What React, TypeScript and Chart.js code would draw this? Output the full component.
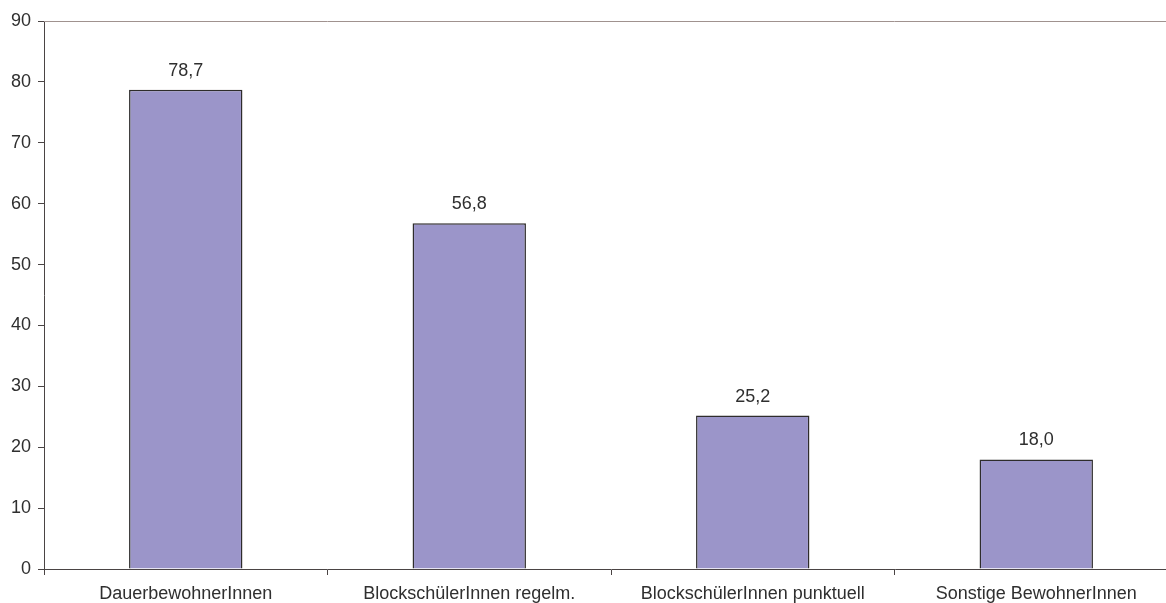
import React, { useEffect, useRef } from "react";
import { Chart, registerables } from "chart.js";

Chart.register(...registerables);

// Categories and their shares (percent)
const categories = [
  "DauerbewohnerInnen",
  "BlockschülerInnen regelm.",
  "BlockschülerInnen punktuell",
  "Sonstige BewohnerInnen",
];
const values = [78.7, 56.8, 25.2, 18.0];

const yMin = 0;
const yMax = 90;
const yStep = 10;

const FONT = '"Liberation Sans", Arial, Helvetica, sans-serif';
const TEXT = "#2f2f2f";
const AXIS = "#4a4444";

const formatValue = (v: number) => v.toFixed(1).replace(".", ",");

// Prints each bar's value above it
const valueLabels = {
  id: "valueLabels",
  afterDatasetsDraw(chart: any) {
    const ctx = chart.ctx;
    const meta = chart.getDatasetMeta(0);
    ctx.save();
    ctx.font = `18px ${FONT}`;
    ctx.fillStyle = TEXT;
    ctx.textAlign = "center";
    ctx.textBaseline = "middle";
    meta.data.forEach((bar: any, i: number) => {
      ctx.fillText(formatValue(values[i]), bar.x, bar.y - 19);
    });
    ctx.restore();
  },
};

// Thin top border of the plot area
const topBorder = {
  id: "topBorder",
  beforeDatasetsDraw(chart: any) {
    const { ctx, chartArea } = chart;
    const y = Math.round(chartArea.top) + 0.5;
    ctx.save();
    ctx.strokeStyle = "#a0928f";
    ctx.lineWidth = 1;
    ctx.beginPath();
    ctx.moveTo(chartArea.left, y);
    ctx.lineTo(chartArea.right, y);
    ctx.stroke();
    ctx.restore();
  },
};

export default function App() {
  const canvasRef = useRef<HTMLCanvasElement | null>(null);

  useEffect(() => {
    if (!canvasRef.current) return;
    const chart = new Chart(canvasRef.current, {
      type: "bar",
      data: {
        labels: categories,
        datasets: [
          {
            data: values,
            backgroundColor: "#9b95c9",
            borderColor: "#2e2c2c",
            borderWidth: 1.5,
            borderSkipped: "start",
            categoryPercentage: 1,
            barPercentage: 0.4,
          },
        ],
      },
      options: {
        responsive: false,
        animation: false,
        layout: { padding: { top: 21, right: 12, left: 0, bottom: 0 } },
        plugins: {
          legend: { display: false },
          tooltip: { enabled: false },
        },
        scales: {
          x: {
            grid: {
              offset: true,
              drawOnChartArea: false,
              drawTicks: true,
              tickLength: 6,
              color: AXIS,
            },
            border: { color: AXIS, width: 1 },
            ticks: {
              color: TEXT,
              font: { family: FONT, size: 18 },
              padding: 8,
              maxRotation: 0,
              autoSkip: false,
            },
            afterFit(scale: any) {
              scale.height = 34;
            },
          },
          y: {
            min: yMin,
            max: yMax,
            grid: {
              drawOnChartArea: false,
              drawTicks: true,
              tickLength: 6,
              color: AXIS,
            },
            border: { color: AXIS, width: 1 },
            ticks: {
              stepSize: yStep,
              color: TEXT,
              font: { family: FONT, size: 18 },
              padding: 7,
            },
            afterFit(scale: any) {
              scale.width = 44;
            },
          },
        },
      },
      plugins: [topBorder, valueLabels],
    });
    return () => chart.destroy();
  }, []);

  return (
    <div
      style={{
        position: "fixed",
        left: 0,
        top: 0,
        width: 1166,
        height: 603,
        overflow: "hidden",
        background: "#ffffff",
      }}
    >
      <canvas ref={canvasRef} width={1190} height={603} style={{ display: "block" }} />
    </div>
  );
}
